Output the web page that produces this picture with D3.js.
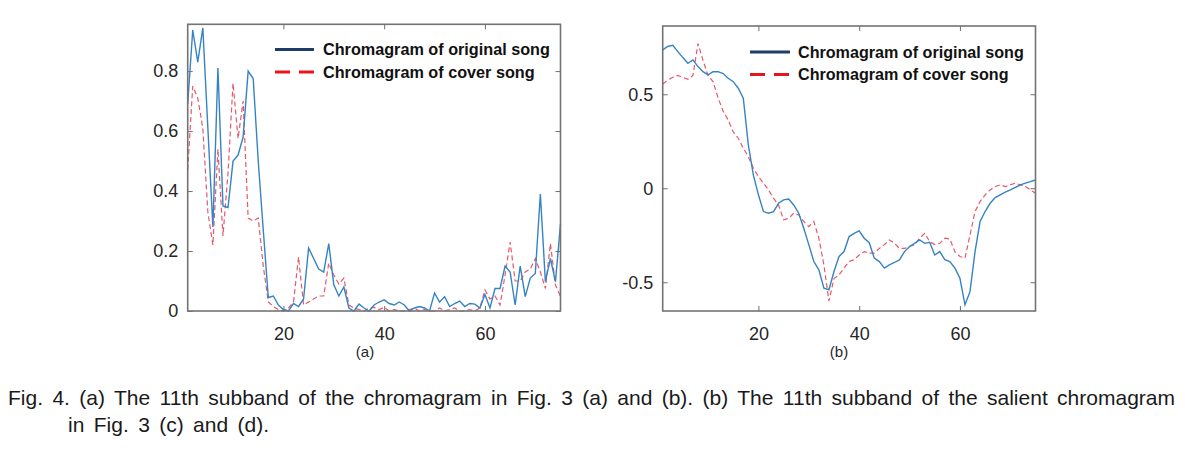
<!DOCTYPE html>
<html>
<head>
<meta charset="utf-8">
<script src="https://cdn.jsdelivr.net/npm/d3@7"></script>
<style>
  html, body { margin: 0; padding: 0; background: #fff; }
  svg { display: block; }
</style>
</head>
<body>
<svg id="chart" width="1185" height="449"></svg>
<script>
// ---------------- DATA ----------------
const frames = d3.range(1, 76); // 1..75

const xTickValues = [20, 40, 60];
const yTicksA = [0, 0.2, 0.4, 0.6, 0.8];
const yTicksB = [-0.5, 0, 0.5];

// Panel (a): 11th subband of the chromagram
const originalA = [
  0.69, 0.937, 0.83, 0.944, 0.61, 0.28, 0.81, 0.35, 0.345, 0.50,
  0.52, 0.58, 0.80, 0.775, 0.50, 0.27, 0.045, 0.05, 0.02, 0.005,
  0.0, 0.025, 0.015, 0.04, 0.21, 0.175, 0.14, 0.13, 0.225, 0.087,
  0.05, 0.08, 0.01, 0.0, 0.023, 0.01, 0.0, 0.02, 0.03, 0.037,
  0.025, 0.02, 0.03, 0.02, 0.0, 0.01, 0.015, 0.01, 0.0, 0.06,
  0.03, 0.048, 0.015, 0.025, 0.033, 0.015, 0.025, 0.023, 0.01, 0.055,
  0.01, 0.075, 0.075, 0.15, 0.13, 0.02, 0.15, 0.048, 0.11, 0.125,
  0.39, 0.098, 0.175, 0.098, 0.29
];
const coverA = [
  0.47, 0.75, 0.71, 0.61, 0.33, 0.22, 0.54, 0.25, 0.46, 0.76,
  0.575, 0.70, 0.31, 0.30, 0.31, 0.15, 0.03, 0.015, 0.005, 0.0,
  0.01, 0.03, 0.18, 0.02, 0.03, 0.04, 0.05, 0.05, 0.16, 0.12,
  0.09, 0.11, 0.02, 0.01, 0.005, 0.0, 0.01, 0.012, 0.005, 0.012,
  0.0, 0.005, 0.0, 0.0, 0.005, 0.01, 0.0, 0.005, 0.0, 0.0,
  0.01, 0.0, 0.005, 0.01, 0.0, 0.0, 0.005, 0.0, 0.01, 0.07,
  0.04, 0.05, 0.02, 0.12, 0.23, 0.10, 0.10, 0.13, 0.14, 0.175,
  0.13, 0.075, 0.225, 0.087, 0.048
];

// Panel (b): 11th subband of the salient chromagram
const originalB = [
  0.736, 0.754, 0.76, 0.727, 0.695, 0.665, 0.683, 0.647, 0.62, 0.603,
  0.62, 0.62, 0.61, 0.585, 0.567, 0.532, 0.479, 0.23, 0.07, -0.035,
  -0.124, -0.133, -0.124, -0.08, -0.062, -0.057, -0.089, -0.133, -0.213, -0.30,
  -0.39, -0.434, -0.532, -0.54, -0.443, -0.363, -0.337, -0.257, -0.24, -0.227,
  -0.266, -0.29, -0.372, -0.39, -0.425, -0.408, -0.395, -0.381, -0.337, -0.31,
  -0.293, -0.275, -0.293, -0.287, -0.355, -0.337, -0.38, -0.39, -0.425, -0.479,
  -0.62, -0.55, -0.337, -0.177, -0.124, -0.08, -0.05, -0.035, -0.021, -0.009,
  0.004, 0.018, 0.027, 0.035, 0.044
];
const coverB = [
  0.555, 0.575, 0.59, 0.60, 0.59, 0.58, 0.60, 0.77, 0.68, 0.60,
  0.567, 0.48, 0.41, 0.363, 0.30, 0.266, 0.213, 0.168, 0.106, 0.062,
  0.027, -0.009, -0.053, -0.089, -0.168, -0.16, -0.133, -0.142, -0.177, -0.204,
  -0.177, -0.266, -0.408, -0.60, -0.48, -0.46, -0.425, -0.39, -0.38, -0.355,
  -0.337, -0.345, -0.345, -0.32, -0.30, -0.275, -0.293, -0.32, -0.32, -0.31,
  -0.30, -0.266, -0.24, -0.284, -0.30, -0.293, -0.266, -0.27, -0.337, -0.363,
  -0.372, -0.248, -0.124, -0.071, -0.035, -0.009, 0.009, 0.018, 0.009, 0.018,
  0.027, 0.018, 0.009, -0.009, -0.027
];

const legendLabels = ["Chromagram of original song", "Chromagram of cover song"];
const panelLabels = ["(a)", "(b)"];
const captionLines = [
  "Fig. 4. (a) The 11th subband of the chromagram in Fig. 3 (a) and (b). (b) The 11th subband of the salient chromagram",
  "in Fig. 3 (c) and (d)."
];

// ---------------- DRAWING ----------------
const svg = d3.select("#chart");
const FONT = "'Liberation Sans', Arial, Helvetica, sans-serif";

const panels = [
  { left: 187.7, right: 560.5, top: 24.3, bottom: 311, ydom: [0, 0.956], yticks: yTicksA,
    orig: originalA, cover: coverA, label: panelLabels[0], labelX: 365,
    leg: { x1: 275, x2: 314, y1: 49.5, y2: 72, tx: 323, tw: 227 } },
  { left: 662.7, right: 1035.5, top: 26, bottom: 311, ydom: [-0.653, 0.863], yticks: yTicksB,
    orig: originalB, cover: coverB, label: panelLabels[1], labelX: 839,
    leg: { x1: 750, x2: 790, y1: 52, y2: 74.5, tx: 798, tw: 226 } }
];

const fmt = v => (v === 0 ? "0" : String(v));

panels.forEach(p => {
  const x = d3.scaleLinear().domain([1, 75]).range([p.left, p.right]);
  const y = d3.scaleLinear().domain(p.ydom).range([p.bottom, p.top]);
  const g = svg.append("g");

  g.append("rect").attr("x", p.left).attr("y", p.top)
    .attr("width", p.right - p.left).attr("height", p.bottom - p.top)
    .attr("fill", "#fff");

  const styleAxis = sel => {
    sel.select(".domain").remove();
    sel.selectAll(".tick line").attr("stroke", "#6f6f6f").attr("stroke-width", 1);
    sel.selectAll(".tick text").attr("fill", "#262626")
      .style("font-family", FONT).style("font-size", "18px");
  };

  g.append("g").attr("transform", `translate(${p.left},0)`)
    .call(d3.axisLeft(y).tickValues(p.yticks).tickFormat(fmt).tickSizeInner(-5).tickSizeOuter(0).tickPadding(9.4))
    .call(styleAxis);
  g.append("g").attr("transform", `translate(${p.right},0)`)
    .call(d3.axisRight(y).tickValues(p.yticks).tickFormat("").tickSizeInner(-5).tickSizeOuter(0))
    .call(styleAxis);
  g.append("g").attr("transform", `translate(0,${p.bottom})`)
    .call(d3.axisBottom(x).tickValues(xTickValues).tickFormat(d3.format("d")).tickSizeInner(-5).tickSizeOuter(0).tickPadding(16))
    .call(styleAxis);
  g.append("g").attr("transform", `translate(0,${p.top})`)
    .call(d3.axisTop(x).tickValues(xTickValues).tickFormat("").tickSizeInner(-5).tickSizeOuter(0))
    .call(styleAxis);

  const line = d3.line().x((d, i) => x(frames[i])).y(d => y(d));
  g.append("path").datum(p.cover).attr("d", line)
    .attr("fill", "none").attr("stroke", "#e6586a").attr("stroke-width", 1.2)
    .attr("stroke-dasharray", "5,3");
  g.append("path").datum(p.orig).attr("d", line)
    .attr("fill", "none").attr("stroke", "#3683c4").attr("stroke-width", 1.4);

  g.append("rect").attr("x", p.left).attr("y", p.top)
    .attr("width", p.right - p.left).attr("height", p.bottom - p.top)
    .attr("fill", "none").attr("stroke", "#737373").attr("stroke-width", 1.6);

  const L = p.leg;
  g.append("line").attr("x1", L.x1).attr("x2", L.x2).attr("y1", L.y1).attr("y2", L.y1)
    .attr("stroke", "#1e3c68").attr("stroke-width", 2.8);
  g.append("line").attr("x1", L.x1).attr("x2", L.x2).attr("y1", L.y2).attr("y2", L.y2)
    .attr("stroke", "#e8141c").attr("stroke-width", 2.8).attr("stroke-dasharray", "15,9");
  const t1 = g.append("text").attr("x", L.tx).attr("y", L.y1).attr("dy", "0.35em")
    .style("font-family", FONT).style("font-weight", "bold").style("font-size", "14.5px")
    .attr("fill", "#111").text(legendLabels[0]);
  const w = t1.node().getComputedTextLength();
  const fs = 14.5 * L.tw / w;
  t1.style("font-size", fs + "px");
  g.append("text").attr("x", L.tx).attr("y", L.y2).attr("dy", "0.35em")
    .style("font-family", FONT).style("font-weight", "bold").style("font-size", fs + "px")
    .attr("fill", "#111").text(legendLabels[1]);

  g.append("text").attr("x", p.labelX).attr("y", 357).attr("text-anchor", "middle")
    .style("font-family", FONT).style("font-size", "15px").attr("fill", "#262626")
    .text(p.label);
});

// caption: fixed font size, widen word gaps so the first line spans the full width
const capSpecs = [ { x: 8, y: 405 }, { x: 68, y: 432 } ];
let capFs = 21;
const probe = svg.append("text").style("font-family", FONT).style("font-size", capFs + "px").text(captionLines[0]);
let natW = probe.node().getComputedTextLength();
probe.remove();
const target = 1167;
if (natW > target) { capFs = capFs * target / natW; natW = target; }
const nSpaces = captionLines[0].split(" ").length - 1;
const wordGap = Math.max(0, (target - natW) / nSpaces);
captionLines.forEach((txt, i) => {
  svg.append("text").attr("x", capSpecs[i].x).attr("y", capSpecs[i].y)
    .style("font-family", FONT).style("font-size", capFs + "px")
    .style("word-spacing", wordGap + "px").attr("fill", "#1a1a1a")
    .text(txt);
});
</script>
</body>
</html>
